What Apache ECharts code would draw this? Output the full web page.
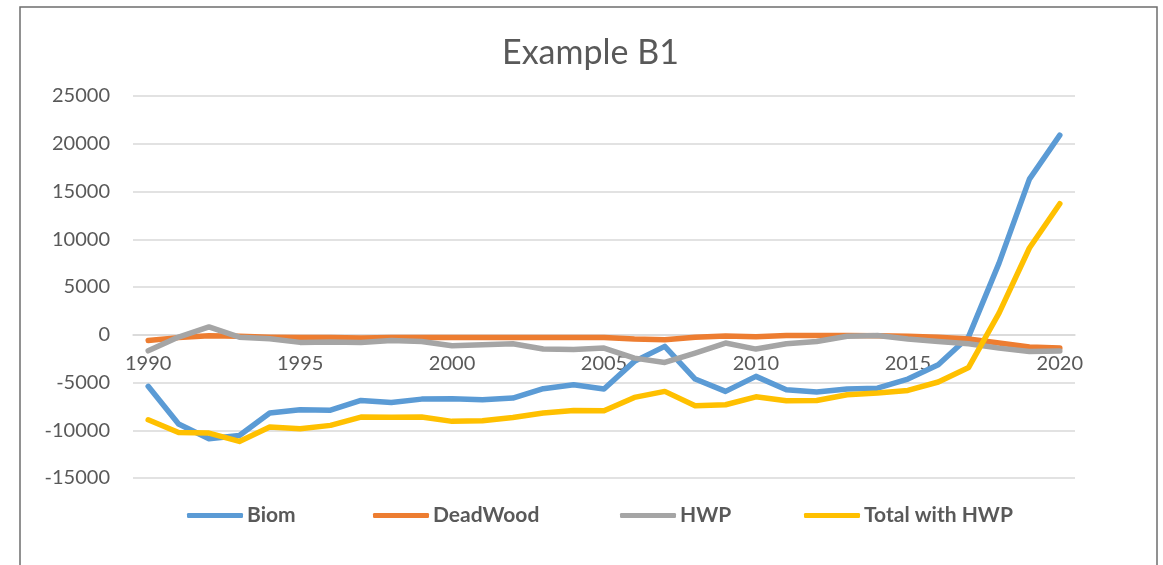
<!DOCTYPE html>
<html>
<head>
<meta charset="utf-8">
<script src="https://cdn.jsdelivr.net/npm/echarts@6/dist/echarts.min.js"></script>
<style>
  html, body { margin: 0; padding: 0; background: #ffffff; }
  #chart { width: 1163px; height: 565px; }
</style>
</head>
<body>
<div id="chart"></div>
<script>
// Years on the category axis
const years = [];
for (let y = 1990; y <= 2020; y++) years.push(String(y));

// Series values, 1990..2020
const biom = [-5400, -9350, -10900, -10550, -8200, -7850, -7900, -6880, -7090, -6740,
  -6700, -6800, -6630, -5650, -5240, -5690, -2790, -1220, -4640, -5930,
  -4360, -5760, -6000, -5690, -5590, -4640, -3140, -200, 7500, 16300, 20900];
const deadWood = [-600, -300, -100, -150, -250, -300, -300, -350, -300, -300,
  -300, -280, -280, -300, -300, -280, -450, -520, -250, -120,
  -200, -80, -80, -80, -100, -150, -250, -450, -870, -1290, -1400];
const hwp = [-1680, -240, 820, -250, -420, -800, -750, -800, -600, -700,
  -1150, -1050, -950, -1500, -1550, -1400, -2450, -2900, -1920, -870,
  -1500, -950, -700, -150, -80, -450, -700, -950, -1400, -1750, -1700];
const totalWithHwp = [-8900, -10230, -10300, -11170, -9670, -9840, -9490, -8620, -8650, -8620,
  -9070, -9000, -8660, -8200, -7920, -7960, -6560, -5930, -7430, -7330,
  -6500, -6910, -6880, -6280, -6110, -5830, -4950, -3420, 2270, 9080, 13720];

const seriesNames = ['Biom', 'DeadWood', 'HWP', 'Total with HWP'];
const seriesColors = ['#5B9BD5', '#ED7D31', '#A5A5A5', '#FFC000'];
const seriesData = [biom, deadWood, hwp, totalWithHwp];
const legendLeft = [187, 373, 620, 804];

const yMin = -15000, yMax = 25000;
const gridTop = 96, gridBottom = 87, chartHeight = 565;

const textColor = '#595959';
const font = 'Lato, "Open Sans", sans-serif';

// Place the category axis on the zero line of the value axis
const plotHeight = chartHeight - gridTop - gridBottom;
const zeroOffset = -plotHeight * (0 - yMin) / (yMax - yMin);

const chart = echarts.init(document.getElementById('chart'), null, { renderer: 'canvas' });

chart.setOption({
  backgroundColor: '#ffffff',
  animation: false,
  title: {
    text: 'Example B1',
    left: 497,
    top: 31,
    textStyle: { color: textColor, fontFamily: font, fontSize: 34, fontWeight: 'normal' }
  },
  legend: seriesNames.map((name, i) => ({
    data: [name],
    left: legendLeft[i],
    top: 505,
    icon: 'roundRect',
    itemWidth: 56,
    itemHeight: 5,
    itemGap: 0,
    textStyle: { color: textColor, fontFamily: font, fontSize: 21, fontWeight: 'bold', padding: [0, 0, 0, -1] },
    padding: 0
  })),
  grid: { left: 133, right: 88, top: gridTop, bottom: gridBottom, containLabel: false },
  xAxis: {
    type: 'category',
    data: years,
    boundaryGap: true,
    position: 'bottom',
    offset: zeroOffset,
    axisLine: { onZero: false, lineStyle: { color: '#D9D9D9', width: 1.5 } },
    axisTick: { show: false },
    axisLabel: {
      interval: 4,
      margin: 19,
      color: textColor,
      fontFamily: font,
      fontSize: 20
    },
    splitLine: { show: false }
  },
  yAxis: {
    type: 'value',
    min: yMin,
    max: yMax,
    interval: 5000,
    axisLine: { show: false },
    axisTick: { show: false },
    axisLabel: {
      margin: 23, color: textColor, fontFamily: font, fontSize: 20,
      formatter: (v) => String(v)
    },
    splitLine: { lineStyle: { color: '#D9D9D9', width: 1.5 } }
  },
  series: seriesNames.map((name, i) => ({
    name: name,
    type: 'line',
    data: seriesData[i],
    symbol: 'none',
    smooth: false,
    color: seriesColors[i],
    lineStyle: { width: 5.5, color: seriesColors[i], cap: 'round', join: 'round' },
    z: 2 + i
  })),
  graphic: [{
    type: 'rect',
    silent: true,
    z: 100,
    shape: { x: 20, y: 7, width: 1137, height: 600 },
    style: { fill: 'none', stroke: '#6E6E6E', lineWidth: 1.5 }
  }]
});
</script>
</body>
</html>
